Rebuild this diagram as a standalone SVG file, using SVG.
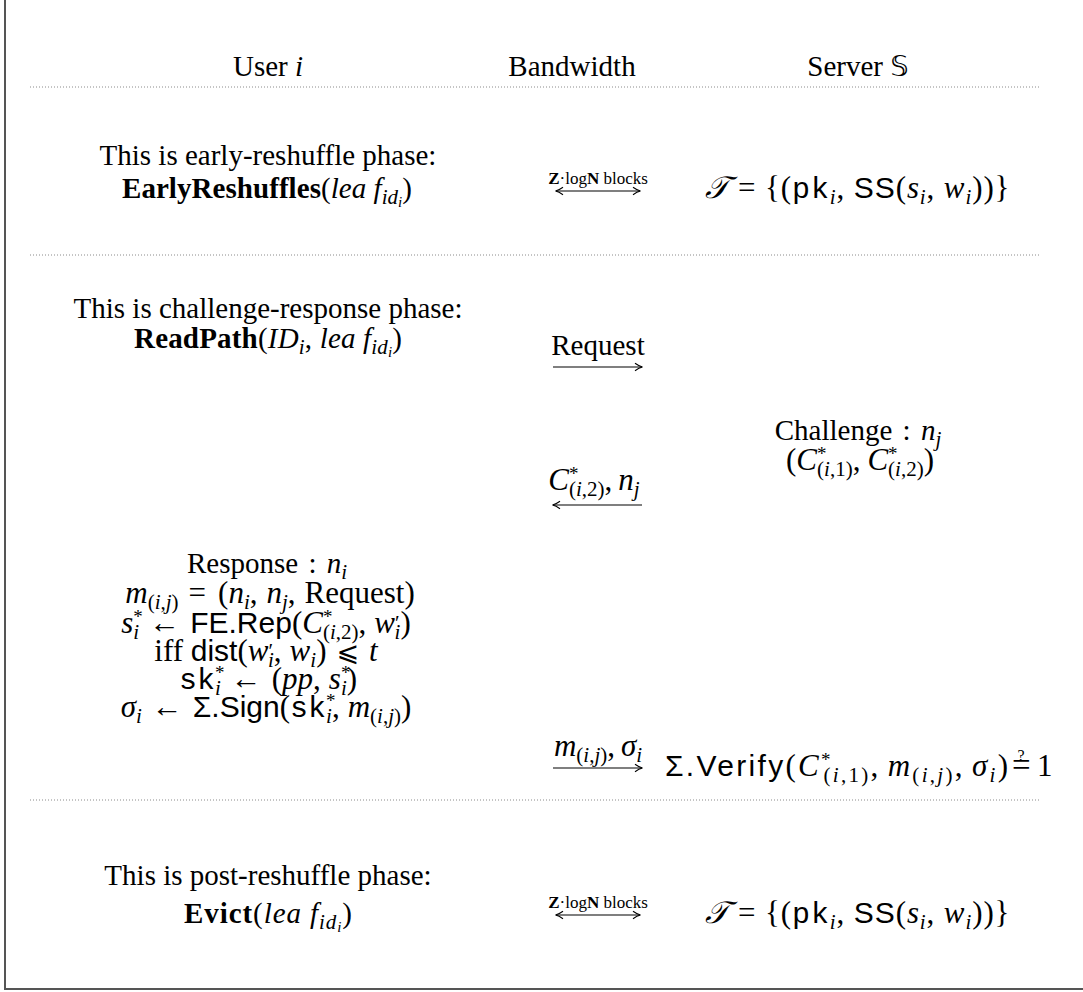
<svg xmlns="http://www.w3.org/2000/svg" width="1083" height="992" viewBox="0 0 1083 992">
<style>
.t{font-family:"Liberation Serif","DejaVu Serif",serif;font-size:29px;fill:#000}
.m{font-size:31px}
.i{font-style:italic}
.b{font-weight:bold}
.sf{font-family:"Liberation Sans","DejaVu Sans",sans-serif;font-size:30px;font-style:normal}
.tt{font-family:"Liberation Mono","DejaVu Sans Mono",monospace;font-size:30px;font-style:normal}
.s{font-size:21px}
.st{font-size:19px;font-style:normal}
.ss{font-size:15px}
.lab{font-size:17px}
.dot{stroke:#8a8a8a;stroke-width:1;stroke-dasharray:1 2;fill:none}
.ar{stroke:#000;stroke-width:1.1;fill:none}
.frame{stroke:#555;stroke-width:2;fill:none}
</style>
<defs>
<marker id="ah" markerWidth="12" markerHeight="12" refX="10" refY="6" orient="auto-start-reverse" markerUnits="userSpaceOnUse">
<path d="M3 2.3 Q7 5.2 10.5 6 Q7 6.8 3 9.7" fill="none" stroke="#000" stroke-width="1.1"/>
</marker>
</defs>
<rect width="1083" height="992" fill="#fff"/>
<path class="frame" d="M5 0 V989 H1083"/>
<g id="separators">
<line class="dot" x1="30" y1="87" x2="1040" y2="87"/>
<line class="dot" x1="30" y1="255" x2="1040" y2="255"/>
<line class="dot" x1="30" y1="800" x2="1040" y2="800"/>
</g>
<g id="header" class="t" text-anchor="middle">
<text x="268" y="76">User <tspan class="i">i</tspan></text>
<text x="572" y="76">Bandwidth</text>
<text x="858" y="76">Server <tspan font-family="DejaVu Sans">𝕊</tspan></text>
</g>
<g id="early-user" class="t" text-anchor="middle">
<text x="268" y="165">This is early-reshuffle phase:</text>
<text x="267" y="198" textLength="290" lengthAdjust="spacing"><tspan class="b">EarlyReshuffles</tspan>(<tspan class="i">lea f</tspan><tspan class="i s" dy="6">id</tspan><tspan class="i ss" dy="3">i</tspan><tspan dy="-9">)</tspan></text>
</g>
<g id="early-server" class="t m" text-anchor="middle">
<text x="857" y="198" textLength="305" lengthAdjust="spacing"><tspan class="i">𝒯</tspan> = {(<tspan class="tt">pk</tspan><tspan class="i s" dy="6">i</tspan><tspan dy="-6">, </tspan><tspan class="sf">SS</tspan>(<tspan class="i">s</tspan><tspan class="i s" dy="6">i</tspan><tspan dy="-6">, </tspan><tspan class="i">w</tspan><tspan class="i s" dy="6">i</tspan><tspan dy="-6">))}</tspan></text>
</g>
<g id="challenge-user" class="t" text-anchor="middle">
<text x="268" y="318">This is challenge-response phase:</text>
<text x="268" y="348" textLength="268" lengthAdjust="spacing"><tspan class="b">ReadPath</tspan>(<tspan class="i">ID</tspan><tspan class="i s" dy="6">i</tspan><tspan dy="-6">, </tspan><tspan class="i">lea f</tspan><tspan class="i s" dy="6">id</tspan><tspan class="i ss" dy="3">i</tspan><tspan dy="-9">)</tspan></text>
</g>
<g id="challenge-server" class="t" text-anchor="middle">
<text x="858" y="440">Challenge <tspan dx="3">:</tspan> <tspan class="i" dx="3">n</tspan><tspan class="i s" dy="6">j</tspan></text>
<text class="m" x="860" y="470">(<tspan class="i">C</tspan><tspan class="st" dy="-10">*</tspan><tspan class="s" dx="-9.5" dy="16">(<tspan class="i">i</tspan>,1)</tspan><tspan dy="-6">,</tspan><tspan class="i" dx="7">C</tspan><tspan class="st" dy="-10">*</tspan><tspan class="s" dx="-9.5" dy="16">(<tspan class="i">i</tspan>,2)</tspan><tspan dy="-6">)</tspan></text>
</g>
<g id="response-user" class="t m" text-anchor="middle">
<text x="267" y="573" font-size="29">Response <tspan dx="3">:</tspan> <tspan class="i" dx="3">n</tspan><tspan class="i s" dy="6">i</tspan></text>
<text x="270" y="603"><tspan class="i">m</tspan><tspan class="s" dy="6">(<tspan class="i">i</tspan>,<tspan class="i">j</tspan>)</tspan><tspan dy="-6" dx="10">=</tspan><tspan dx="12">(</tspan><tspan class="i">n</tspan><tspan class="i s" dy="6">i</tspan><tspan dy="-6">,</tspan><tspan class="i" dx="9">n</tspan><tspan class="i s" dy="6">j</tspan><tspan dy="-6">,</tspan><tspan dx="9">Request)</tspan></text>
<text x="266" y="633"><tspan class="i">s</tspan><tspan class="st" dy="-10">*</tspan><tspan class="i s" dx="-9.5" dy="16">i</tspan><tspan dy="-6" dx="10">←</tspan><tspan class="sf" dx="10">FE.Rep</tspan>(<tspan class="i">C</tspan><tspan class="st" dy="-10">*</tspan><tspan class="s" dx="-9.5" dy="16">(<tspan class="i">i</tspan>,2)</tspan><tspan dy="-6">,</tspan><tspan class="i" dx="8">w</tspan><tspan class="s" dy="-3">′</tspan><tspan class="i s" dx="-5" dy="9">i</tspan><tspan dy="-6">)</tspan></text>
<text x="266" y="661">iff <tspan class="sf">dist</tspan>(<tspan class="i">w</tspan><tspan class="s" dy="-3">′</tspan><tspan class="i s" dx="-5" dy="9">i</tspan><tspan dy="-6">,</tspan><tspan class="i" dx="8">w</tspan><tspan class="i s" dy="6">i</tspan><tspan dy="-6">)</tspan><tspan font-family="DejaVu Sans" font-size="27" dx="10">⩽</tspan><tspan class="i" dx="10">t</tspan></text>
<text x="268" y="689"><tspan class="tt">sk</tspan><tspan class="st" dy="-10">*</tspan><tspan class="i s" dx="-9.5" dy="16">i</tspan><tspan dy="-6" dx="10">←</tspan><tspan dx="10">(</tspan><tspan class="i">pp</tspan>,<tspan class="i" dx="8">s</tspan><tspan class="st" dy="-10">*</tspan><tspan class="i s" dx="-9.5" dy="16">i</tspan><tspan dy="-6">)</tspan></text>
<text x="266" y="717"><tspan class="i">σ</tspan><tspan class="i s" dy="6">i</tspan><tspan dy="-6" dx="10">←</tspan><tspan class="sf" dx="10">Σ.Sign</tspan>(<tspan class="tt">sk</tspan><tspan class="st" dy="-10">*</tspan><tspan class="i s" dx="-9.5" dy="16">i</tspan><tspan dy="-6">,</tspan><tspan class="i" dx="8">m</tspan><tspan class="s" dy="6">(<tspan class="i">i</tspan>,<tspan class="i">j</tspan>)</tspan><tspan dy="-6">)</tspan></text>
</g>
<g id="verify-server" class="t m">
<text x="665" y="776" textLength="343" lengthAdjust="spacing"><tspan class="sf" font-size="33">Σ.Verify</tspan>(<tspan class="i">C</tspan><tspan class="st" dy="-10">*</tspan><tspan class="s" dx="-9.5" dy="16">(<tspan class="i">i</tspan>,1)</tspan><tspan dy="-6">,</tspan><tspan class="i" dx="7">m</tspan><tspan class="s" dy="6">(<tspan class="i">i</tspan>,<tspan class="i">j</tspan>)</tspan><tspan dy="-6">,</tspan><tspan class="i" dx="7">σ</tspan><tspan class="i s" dy="6">i</tspan><tspan dy="-6">)</tspan></text>
<text x="1012" y="776" font-size="33">=</text>
<text x="1021" y="761" font-size="16" text-anchor="middle">?</text>
<text x="1037" y="776">1</text>
</g>
<g id="post-user" class="t" text-anchor="middle">
<text x="268" y="885">This is post-reshuffle phase:</text>
<text x="268" y="923" textLength="168" lengthAdjust="spacing"><tspan class="b">Evict</tspan>(<tspan class="i">lea f</tspan><tspan class="i s" dy="6">id</tspan><tspan class="i ss" dy="3">i</tspan><tspan dy="-9">)</tspan></text>
</g>
<g id="post-server" class="t m" text-anchor="middle">
<text x="857" y="923" textLength="305" lengthAdjust="spacing"><tspan class="i">𝒯</tspan> = {(<tspan class="tt">pk</tspan><tspan class="i s" dy="6">i</tspan><tspan dy="-6">, </tspan><tspan class="sf">SS</tspan>(<tspan class="i">s</tspan><tspan class="i s" dy="6">i</tspan><tspan dy="-6">, </tspan><tspan class="i">w</tspan><tspan class="i s" dy="6">i</tspan><tspan dy="-6">))}</tspan></text>
</g>
<g id="connectors">
<line class="ar" x1="556" y1="191" x2="640" y2="191" marker-start="url(#ah)" marker-end="url(#ah)"/>
<line class="ar" x1="553" y1="367" x2="642" y2="367" marker-end="url(#ah)"/>
<line class="ar" x1="642" y1="505" x2="553" y2="505" marker-end="url(#ah)"/>
<line class="ar" x1="553" y1="768" x2="642" y2="768" marker-end="url(#ah)"/>
<line class="ar" x1="556" y1="915" x2="640" y2="915" marker-start="url(#ah)" marker-end="url(#ah)"/>
</g>
<g id="connector-labels" class="t" text-anchor="middle">
<text class="lab" x="598" y="184"><tspan class="b">Z</tspan>·log<tspan class="b">N</tspan> blocks</text>
<text x="598" y="355">Request</text>
<text class="m" x="594" y="490"><tspan class="i">C</tspan><tspan class="st" dy="-10">*</tspan><tspan class="s" dx="-9.5" dy="16">(<tspan class="i">i</tspan>,2)</tspan><tspan dy="-6">,</tspan><tspan class="i" dx="6">n</tspan><tspan class="i s" dy="6">j</tspan></text>
<text class="m" x="598" y="756"><tspan class="i">m</tspan><tspan class="s" dy="6">(<tspan class="i">i</tspan>,<tspan class="i">j</tspan>)</tspan><tspan dy="-6">,</tspan><tspan class="i" dx="6">σ</tspan><tspan class="i s" dy="6">i</tspan></text>
<text class="lab" x="598" y="908"><tspan class="b">Z</tspan>·log<tspan class="b">N</tspan> blocks</text>
</g>
</svg>
